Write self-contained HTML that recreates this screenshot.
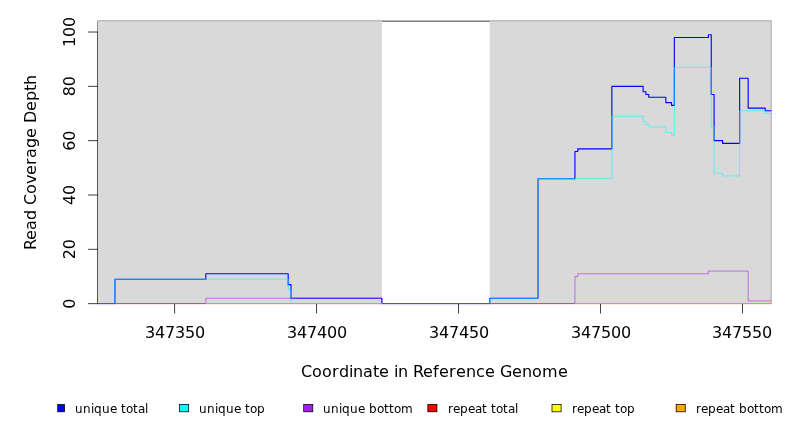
<!DOCTYPE html>
<html><head><meta charset="utf-8"><title>Read Coverage Depth</title>
<style>html,body{margin:0;padding:0;background:#fff}svg{display:block}text{font-family:'DejaVu Sans','Liberation Sans',sans-serif;fill:#000}</style></head>
<body>
<svg width="792" height="432" viewBox="0 0 792 432">
<rect width="792" height="432" fill="#fff"/>
<rect x="97.92" y="21.12" width="672.96" height="282.53" fill="none" stroke="#000" stroke-width="0.75"/>
<path d="M174.59 303.65H742.49M97.92 303.65V32.02M97.92 303.65h-9.6M97.92 249.32h-9.6M97.92 195.00h-9.6M97.92 140.67h-9.6M97.92 86.35h-9.6M97.92 32.02h-9.6" fill="none" stroke="#000" stroke-width="0.75" stroke-linecap="round"/>
<rect x="97.92" y="21.12" width="283.95" height="282.53" fill="#d9d9d9"/>
<rect x="489.77" y="21.12" width="281.11" height="282.53" fill="#d9d9d9"/>
<clipPath id="c"><rect x="97.92" y="21.12" width="673.96" height="283.53"/></clipPath>
<g clip-path="url(#c)" fill="none" stroke-linecap="round" stroke-linejoin="round">
<path d="M97.92 303.65H770.88" stroke="#ff0000" stroke-width="0.5625"/>
<path d="M97.92 303.65H770.88" stroke="#ffff00" stroke-width="0.5625"/>
<path d="M97.92 303.65H770.88" stroke="#ffa500" stroke-width="0.5625"/>
<path d="M97.92 303.65H114.96V279.20H205.82V273.77H288.17V284.64H291.01V298.22H381.87V303.65H489.77V298.22H538.04V178.70H574.95V151.54H577.79V148.82H611.87V86.35H643.10V91.78H645.94V94.49H648.78V97.21H665.82V102.64H671.50V105.36H674.34V37.45H708.41V34.74H711.25V94.49H714.09V140.67H722.61V143.39H739.65V78.20H748.16V108.08H765.20V110.79H770.88" stroke="#0000ff" stroke-width="1.125"/>
<path d="M97.92 303.65H114.96V279.20H288.17V290.07H291.01V303.65H489.77V298.22H538.04V178.70H611.87V116.23H643.10V121.66H645.94V124.37H648.78V127.09H665.82V132.52H671.50V135.24H674.34V67.33H711.25V127.09H714.09V173.27H722.61V175.98H739.65V110.79H765.20V113.51H770.88" stroke="#00ffff" stroke-width="0.5625"/>
<path d="M97.92 303.65H205.82V298.22H381.87V303.65H574.95V276.49H577.79V273.77H708.41V271.05H748.16V300.93H770.88" stroke="#a020f0" stroke-width="0.5625"/>
</g>
<rect x="97.92" y="303" width="17.04" height="1" fill="#5848f0"/><rect x="97.92" y="304" width="17.04" height="1" fill="#e0d8f6"/>
<rect x="114.96" y="303" width="90.86" height="1" fill="#c85078"/><rect x="114.96" y="304" width="90.86" height="1" fill="#ffe6e6"/>
<rect x="205.82" y="303" width="85.18" height="1" fill="#ff9808"/><rect x="205.82" y="304" width="85.18" height="1" fill="#ffece0"/>
<rect x="291.01" y="303" width="90.86" height="1" fill="#78c888"/><rect x="291.01" y="304" width="90.86" height="1" fill="#ffe4e4"/>
<rect x="381.87" y="303" width="107.90" height="1" fill="#5848f0"/><rect x="381.87" y="304" width="107.90" height="1" fill="#e0d8f6"/>
<rect x="489.77" y="303" width="85.18" height="1" fill="#c85078"/><rect x="489.77" y="304" width="85.18" height="1" fill="#ffe6e6"/>
<rect x="574.95" y="303" width="196.33" height="1" fill="#ff9808"/><rect x="574.95" y="304" width="196.33" height="1" fill="#ffece0"/>
<path d="M174.59 304.40v8.7M316.56 304.40v8.7M458.54 304.40v8.7M600.51 304.40v8.7M742.49 304.40v8.7" fill="none" stroke="#000" stroke-width="0.75" stroke-linecap="round"/>
<text font-size="16" x="145 155 165 175 185 195" y="338">347350</text>
<text font-size="16" x="287 297 307 317 327 337" y="338">347400</text>
<text font-size="16" x="429 439 449 459 469 479" y="338">347450</text>
<text font-size="16" x="571 581 591 601 611 621" y="338">347500</text>
<text font-size="16" x="712 722 732 742 752 762" y="338">347550</text>
<text transform="translate(75 303.65) rotate(-90)" font-size="16" x="-5" y="0">0</text>
<text transform="translate(75 249.32) rotate(-90)" font-size="16" x="-10 0" y="0">20</text>
<text transform="translate(75 195) rotate(-90)" font-size="16" x="-10 0" y="0">40</text>
<text transform="translate(75 140.67) rotate(-90)" font-size="16" x="-10 0" y="0">60</text>
<text transform="translate(75 86.35) rotate(-90)" font-size="16" x="-10 0" y="0">80</text>
<text transform="translate(75 32.02) rotate(-90)" font-size="16" x="-15 -5 5" y="0">100</text>
<text font-size="16" x="301 312 322 332 339 349 353 363 373 379 389 394 398 408 413 423 433 439 449 456 466 476 485 495 500 512 522 532 542 558" y="377">Coordinate in Reference Genome</text>
<text transform="translate(35.5 162.38) rotate(-90)" font-size="16" x="-87.5 -77.5 -67.5 -57.5 -47.5 -42.5 -31.5 -21.5 -12.5 -2.5 4.5 14.5 24.5 34.5 39.5 51.5 61.5 71.5 77.5" y="0">Read Coverage Depth</text>
<clipPath id="lc"><rect x="57.2" y="395" width="740" height="30"/></clipPath>
<g clip-path="url(#lc)">
<rect x="55.40" y="404.4" width="9.1" height="7.4" fill="#0000ff" stroke="#000" stroke-width="0.75"/>
<text font-size="12" x="75 83 91 94 102 110 117 121 126 133 138 145" y="413">unique total</text>
<rect x="179.55" y="404.4" width="9.1" height="7.4" fill="#00ffff" stroke="#000" stroke-width="0.75"/>
<text font-size="12" x="199 207 215 218 226 234 241 245 250 257" y="413">unique top</text>
<rect x="303.70" y="404.4" width="9.1" height="7.4" fill="#a020f0" stroke="#000" stroke-width="0.75"/>
<text font-size="12" x="323 331 339 342 350 358 365 369 377 384 389 394 401" y="413">unique bottom</text>
<rect x="427.85" y="404.4" width="9.1" height="7.4" fill="#ff0000" stroke="#000" stroke-width="0.75"/>
<text font-size="12" x="448 453 460 468 475 482 487 491 496 503 508 515" y="413">repeat total</text>
<rect x="552.00" y="404.4" width="9.1" height="7.4" fill="#ffff00" stroke="#000" stroke-width="0.75"/>
<text font-size="12" x="572 577 584 592 599 606 611 615 620 627" y="413">repeat top</text>
<rect x="676.15" y="404.4" width="9.1" height="7.4" fill="#ffa500" stroke="#000" stroke-width="0.75"/>
<text font-size="12" x="696 701 708 716 723 730 735 739 747 754 759 764 771" y="413">repeat bottom</text>
</g>
</svg>
</body></html>
